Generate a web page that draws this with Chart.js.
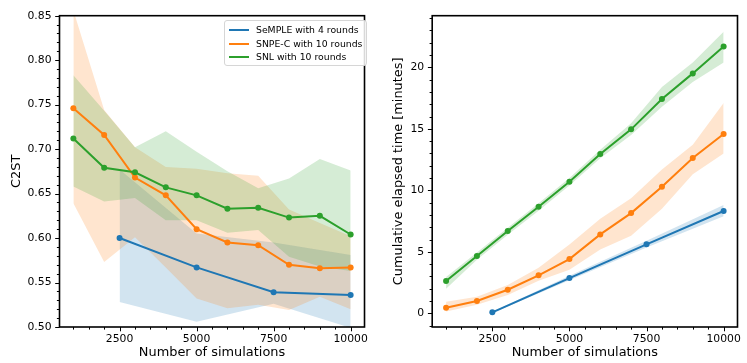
<!DOCTYPE html>
<html>
<head>
<meta charset="utf-8">
<script src="https://cdn.jsdelivr.net/npm/chart.js@4.4.1/dist/chart.umd.min.js"></script>
<style>
  body { margin: 0; background: #fff; width: 747px; height: 363px; overflow: hidden; position: relative; font-family: 'DejaVu Sans', sans-serif; }
  .panel { position: absolute; top: 0; height: 363px; }
  #left { left: 0; width: 374px; }
  #right { left: 374px; width: 373px; }
  .legend { position: absolute; left: 224px; top: 20px; width: 141px; height: 44px; border: 1px solid #d6d6d6; border-radius: 3px; background: rgba(255,255,255,0.85); }
  .legend .row { position: absolute; left: 0; height: 12px; font-size: 9.3px; line-height: 12px; color: #000; white-space: nowrap; }
  .legend .swatch { position: absolute; left: 4px; top: 5px; width: 20px; height: 2px; }
  .legend .txt { position: absolute; left: 31px; top: 0; }
</style>
</head>
<body>
<div class="panel" id="left"><canvas id="c2stChart"></canvas></div>
<div class="panel" id="right"><canvas id="timeChart"></canvas></div>
<div class="legend">
  <div class="row" style="top:3px"><span class="swatch" style="background:#1f77b4"></span><span class="txt">SeMPLE with 4 rounds</span></div>
  <div class="row" style="top:16.5px"><span class="swatch" style="background:#ff7f0e"></span><span class="txt">SNPE-C with 10 rounds</span></div>
  <div class="row" style="top:30px"><span class="swatch" style="background:#2ca02c"></span><span class="txt">SNL with 10 rounds</span></div>
</div>
<script>
// x positions (number of simulations)
const sims = [1000, 2000, 3000, 4000, 5000, 6000, 7000, 8000, 9000, 10000];
const sempleSims = [2500, 5000, 7500, 10000];

// C2ST (left panel)
const c2stSemple   = [0.600, 0.567, 0.539, 0.536];
const c2stSempleHi = [0.677, 0.605, 0.595, 0.581];
const c2stSempleLo = [0.528, 0.506, 0.526, 0.499];
const c2stSnpe   = [0.746, 0.716, 0.668, 0.648, 0.610, 0.595, 0.592, 0.570, 0.566, 0.567];
const c2stSnpeHi = [0.856, 0.744, 0.702, 0.680, 0.678, 0.673, 0.670, 0.632, 0.617, 0.602];
const c2stSnpeLo = [0.639, 0.573, 0.601, 0.567, 0.532, 0.521, 0.525, 0.519, 0.534, 0.520];
const c2stSnl   = [0.712, 0.679, 0.674, 0.657, 0.648, 0.633, 0.634, 0.623, 0.625, 0.604];
const c2stSnlHi = [0.783, 0.743, 0.702, 0.720, 0.697, 0.675, 0.656, 0.667, 0.689, 0.676];
const c2stSnlLo = [0.658, 0.641, 0.645, 0.620, 0.620, 0.606, 0.609, 0.579, 0.568, 0.563];

// cumulative elapsed time in minutes (right panel)
const timeSemple   = [0.08, 2.87, 5.61, 8.32];
const timeSempleHi = [0.14, 3.05, 5.90, 8.80];
const timeSempleLo = [0.02, 2.70, 5.35, 7.90];
const timeSnpe   = [0.46, 1.00, 1.92, 3.09, 4.41, 6.42, 8.15, 10.29, 12.63, 14.58];
const timeSnpeHi = [0.95, 1.35, 2.30, 3.70, 5.60, 7.70, 9.35, 11.70, 13.70, 17.10];
const timeSnpeLo = [0.15, 0.70, 1.50, 2.65, 3.55, 5.20, 6.30, 8.50, 11.30, 13.00];
const timeSnl   = [2.63, 4.66, 6.69, 8.67, 10.70, 12.95, 14.96, 17.42, 19.51, 21.70];
const timeSnlHi = [2.95, 4.95, 6.95, 8.95, 11.00, 13.30, 15.45, 18.40, 20.40, 22.90];
const timeSnlLo = [2.00, 4.35, 6.40, 8.35, 10.40, 12.60, 14.50, 16.80, 18.80, 20.40];

// tick labels
const xMajor = [2500, 5000, 7500, 10000];
const c2stMajor = [0.50, 0.55, 0.60, 0.65, 0.70, 0.75, 0.80, 0.85];
const timeMajor = [0, 5, 10, 15, 20];

// minor tick positions
const xAll = [];
for (let v = 1000; v <= 10000; v += 500) xAll.push(v);
const c2stAll = [];
for (let i = 50; i <= 85; i++) c2stAll.push(i / 100);
const timeAll = [];
for (let i = -1; i <= 24; i++) timeAll.push(i);

const BLUE = '#1f77b4', ORANGE = '#ff7f0e', GREEN = '#2ca02c';

Chart.defaults.font.family = "'DejaVu Sans', sans-serif";
Chart.defaults.color = '#000';

const isMajor = (v, majors) => majors.some(m => Math.abs(m - v) < 1e-9);

function pts(xs, ys) { return xs.map((x, i) => ({ x: x, y: ys[i] })); }

function line(xs, ys, color, order) {
  return { data: pts(xs, ys), borderColor: color, backgroundColor: color, borderWidth: 2,
           pointRadius: 3, pointBorderWidth: 0, pointBackgroundColor: color, fill: false, tension: 0, order: order };
}

function band(xs, hi, lo, rgba, order) {
  return [
    { data: pts(xs, hi), borderWidth: 0, borderColor: 'transparent', pointRadius: 0, fill: '+1', backgroundColor: rgba, tension: 0, order: order },
    { data: pts(xs, lo), borderWidth: 0, borderColor: 'transparent', pointRadius: 0, fill: false, tension: 0, order: order }
  ];
}

// ticks (major / minor) and the box around the plot, like matplotlib
const axisDecor = {
  id: 'axisDecor',
  afterDraw(chart, args, opts) {
    const { ctx, chartArea: a } = chart;
    const x = chart.scales.x, y = chart.scales.y;
    ctx.save();
    ctx.strokeStyle = '#000';
    ctx.lineWidth = 1;
    x.ticks.forEach(t => {
      const px = Math.round(x.getPixelForValue(t.value)) + 0.5;
      const len = isMajor(t.value, opts.xMajor) ? 4.3 : 2.6;
      ctx.beginPath(); ctx.moveTo(px, a.bottom); ctx.lineTo(px, a.bottom + len); ctx.stroke();
    });
    y.ticks.forEach(t => {
      const py = Math.round(y.getPixelForValue(t.value)) + 0.5;
      const len = isMajor(t.value, opts.yMajor) ? 4.3 : 2.6;
      ctx.beginPath(); ctx.moveTo(a.left, py); ctx.lineTo(a.left - len, py); ctx.stroke();
    });
    ctx.lineWidth = 1.6;
    ctx.strokeRect(a.left, a.top, a.right - a.left, a.bottom - a.top);
    ctx.restore();
  }
};

function makeChart(id, datasets, yMin, yMax, yAll, yMajorVals, yFmt, yTitle, yWidth, yTitlePad, rightPad) {
  return new Chart(document.getElementById(id), {
    type: 'line',
    data: { datasets: datasets },
    plugins: [axisDecor],
    options: {
      responsive: true,
      maintainAspectRatio: false,
      animation: false,
      events: [],
      layout: { padding: { top: 15.7, right: rightPad, left: 0, bottom: 0 } },
      plugins: {
        legend: { display: false },
        tooltip: { enabled: false },
        filler: { drawTime: 'beforeDatasetsDraw' },
        axisDecor: { xMajor: xMajor, yMajor: yMajorVals }
      },
      scales: {
        x: {
          type: 'linear', min: 550, max: 10450,
          afterBuildTicks: axis => { axis.ticks = xAll.map(v => ({ value: v })); },
          afterFit: s => { s.height = 36; },
          grid: { display: false, drawTicks: false },
          border: { display: false },
          ticks: { autoSkip: false, maxRotation: 0, padding: 6, font: { size: 10.8 },
                   callback: v => isMajor(v, xMajor) ? String(v) : '' },
          title: { display: true, text: 'Number of simulations', font: { size: 12.9 }, padding: { top: 0, bottom: 2.5 } }
        },
        y: {
          type: 'linear', min: yMin, max: yMax,
          afterBuildTicks: axis => { axis.ticks = yAll.map(v => ({ value: v })); },
          afterFit: s => { s.width = yWidth; },
          grid: { display: false, drawTicks: false },
          border: { display: false },
          ticks: { autoSkip: false, padding: 8, font: { size: 10.8 },
                   callback: v => isMajor(v, yMajorVals) ? yFmt(v) : '' },
          title: { display: true, text: yTitle, font: { size: 12.9 }, padding: { top: yTitlePad, bottom: 0 } }
        }
      }
    }
  });
}

const c2stSets = [
  line(sempleSims, c2stSemple, BLUE, 2),
  line(sims, c2stSnpe, ORANGE, 1),
  line(sims, c2stSnl, GREEN, 0),
  ...band(sempleSims, c2stSempleHi, c2stSempleLo, 'rgba(31,119,180,0.2)', 5),
  ...band(sims, c2stSnpeHi, c2stSnpeLo, 'rgba(255,127,14,0.2)', 4),
  ...band(sims, c2stSnlHi, c2stSnlLo, 'rgba(44,160,44,0.2)', 3)
];

const timeSets = [
  line(sempleSims, timeSemple, BLUE, 2),
  line(sims, timeSnpe, ORANGE, 1),
  line(sims, timeSnl, GREEN, 0),
  ...band(sempleSims, timeSempleHi, timeSempleLo, 'rgba(31,119,180,0.2)', 5),
  ...band(sims, timeSnpeHi, timeSnpeLo, 'rgba(255,127,14,0.2)', 4),
  ...band(sims, timeSnlHi, timeSnlLo, 'rgba(44,160,44,0.2)', 3)
];

makeChart('c2stChart', c2stSets, 0.5, 0.85, c2stAll, c2stMajor, v => v.toFixed(2), 'C2ST', 59.5, 9, 3.9);
makeChart('timeChart', timeSets, -1.11, 24.2, timeAll, timeMajor, v => String(v), 'Cumulative elapsed time [minutes]', 58.2, 17, 4.6);
</script>
</body>
</html>
